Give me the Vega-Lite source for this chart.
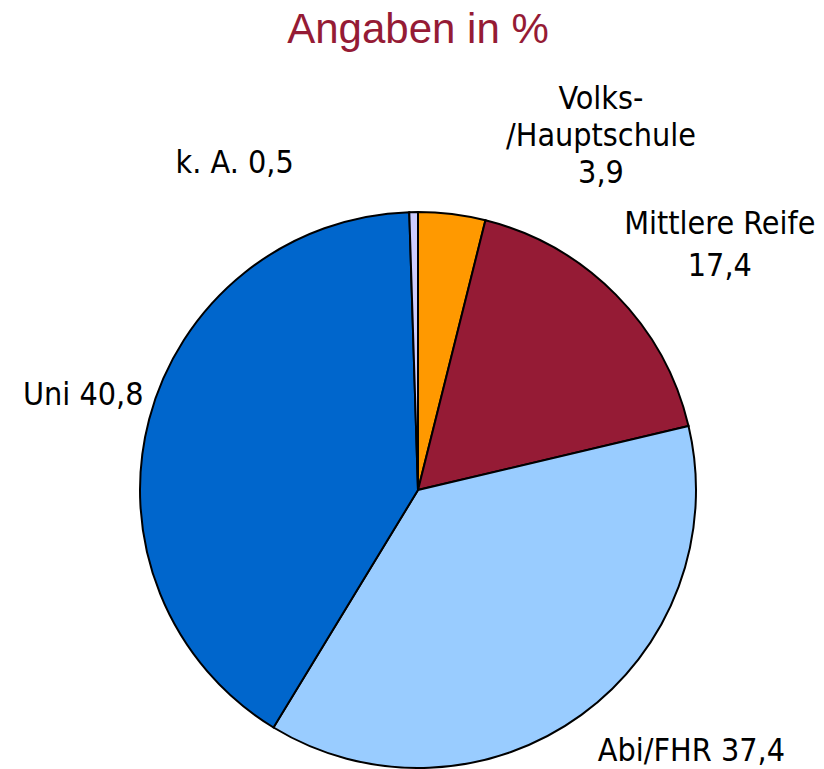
{
  "$schema": "https://vega.github.io/schema/vega-lite/v6.json",
  "width": 812,
  "height": 558,
  "autosize": {"type": "none"},
  "padding": {"left": 12, "top": 211, "right": 0, "bottom": 0},
  "background": "white",
  "title": {
    "text": "Angaben in %",
    "font": "Liberation Sans",
    "fontSize": 42,
    "fontWeight": "normal",
    "color": "#951B35",
    "anchor": "middle",
    "frame": "group",
    "baseline": "alphabetic",
    "offset": -4
  },
  "data": {
    "values": [
      {"Abschluss": "Volks-/Hauptschule", "Anteil": 3.9},
      {"Abschluss": "Mittlere Reife", "Anteil": 17.4},
      {"Abschluss": "Abi/FHR", "Anteil": 37.4},
      {"Abschluss": "Uni", "Anteil": 40.8},
      {"Abschluss": "k. A.", "Anteil": 0.5}
    ]
  },
  "transform": [
    {"window": [{"op": "row_number", "as": "Reihenfolge"}]},
    {"calculate": "replace(format(datum.Anteil, '.1f'), '.', ',')", "as": "Wert"},
    {"calculate": "datum.Abschluss == 'Volks-/Hauptschule' ? ['Volks-', '/Hauptschule', datum.Wert] : datum.Abschluss == 'Mittlere Reife' ? [datum.Abschluss, datum.Wert] : datum.Abschluss + ' ' + datum.Wert", "as": "Beschriftung"}
  ],
  "encoding": {
    "theta": {"field": "Anteil", "type": "quantitative", "stack": true},
    "order": {"field": "Reihenfolge", "type": "quantitative"},
    "detail": {"field": "Abschluss", "type": "nominal"}
  },
  "layer": [
    {
      "mark": {"type": "arc", "outerRadius": 278, "stroke": "black", "strokeWidth": 2},
      "encoding": {
        "color": {
          "field": "Abschluss",
          "type": "nominal",
          "scale": {
            "domain": ["Volks-/Hauptschule", "Mittlere Reife", "Abi/FHR", "Uni", "k. A."],
            "range": ["#FF9900", "#951B35", "#99CCFF", "#0066CC", "#CCCCFF"]
          },
          "legend": null
        }
      }
    },
    {
      "mark": {"type": "text", "radius": 278, "dx": 149, "dy": -130, "align": "center", "baseline": "top", "lineHeight": 37, "font": "DejaVu Sans Condensed, Liberation Sans", "fontSize": 32, "color": "black"},
      "encoding": {"text": {"condition": {"test": "datum.Abschluss == 'Volks-/Hauptschule'", "field": "Beschriftung"}, "value": ""}}
    },
    {
      "mark": {"type": "text", "radius": 278, "dx": 104, "dy": -86, "align": "center", "baseline": "top", "lineHeight": 42, "font": "DejaVu Sans Condensed, Liberation Sans", "fontSize": 32, "color": "black"},
      "encoding": {"text": {"condition": {"test": "datum.Abschluss == 'Mittlere Reife'", "field": "Beschriftung"}, "value": ""}}
    },
    {
      "mark": {"type": "text", "radius": 278, "dx": 110, "dy": 46, "align": "center", "baseline": "alphabetic", "font": "DejaVu Sans Condensed, Liberation Sans", "fontSize": 32, "color": "black"},
      "encoding": {"text": {"condition": {"test": "datum.Abschluss == 'Abi/FHR'", "field": "Beschriftung"}, "value": ""}}
    },
    {
      "mark": {"type": "text", "radius": 278, "dx": -66, "dy": -14, "align": "center", "baseline": "alphabetic", "font": "DejaVu Sans Condensed, Liberation Sans", "fontSize": 32, "color": "black"},
      "encoding": {"text": {"condition": {"test": "datum.Abschluss == 'Uni'", "field": "Beschriftung"}, "value": ""}}
    },
    {
      "mark": {"type": "text", "radius": 278, "dx": -179, "dy": -39, "align": "center", "baseline": "alphabetic", "font": "DejaVu Sans Condensed, Liberation Sans", "fontSize": 32, "color": "black"},
      "encoding": {"text": {"condition": {"test": "datum.Abschluss == 'k. A.'", "field": "Beschriftung"}, "value": ""}}
    }
  ],
  "config": {"view": {"stroke": null}}
}
